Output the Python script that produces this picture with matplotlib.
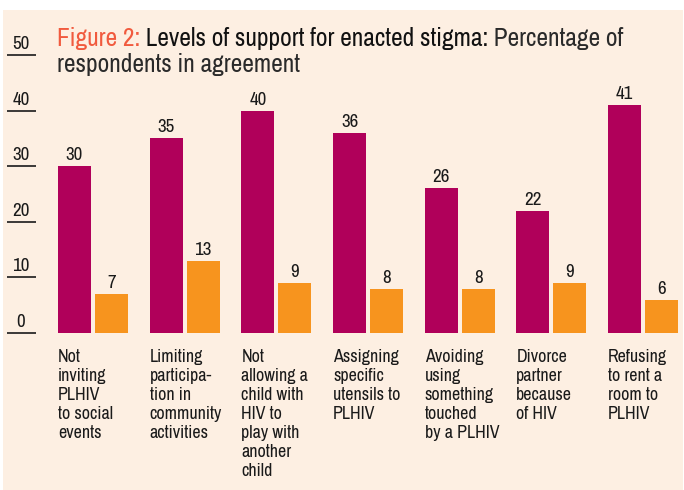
import matplotlib
matplotlib.use("Agg")
import matplotlib.pyplot as plt
from matplotlib import font_manager
from matplotlib.font_manager import FontProperties
from matplotlib.patches import Rectangle
from matplotlib.textpath import TextPath

categories = [
    "Not\ninviting\nPLHIV\nto social\nevents",
    "Limiting\nparticipa-\ntion in\ncommunity\nactivities",
    "Not\nallowing a\nchild with\nHIV to\nplay with\nanother\nchild",
    "Assigning\nspecific\nutensils to\nPLHIV",
    "Avoiding\nusing\nsomething\ntouched\nby a PLHIV",
    "Divorce\npartner\nbecause\nof HIV",
    "Refusing\nto rent a\nroom to\nPLHIV",
]
series_a = [30, 35, 40, 36, 26, 22, 41]
series_b = [7, 13, 9, 8, 8, 9, 6]
y_ticks = [0, 10, 20, 30, 40, 50]

MAGENTA = '#B0005A'
ORANGE = '#F7941E'
BG = '#FDEFE2'
TITLE_RED = '#F15A3E'
INK = '#1a1a1a'


def pick_font():
    # look for a narrow / condensed face, the original uses a condensed grotesque
    best = None
    for f in font_manager.fontManager.ttflist:
        name = f.name.lower()
        path = f.fname.lower()
        narrow = ('narrow' in name or 'condensed' in name or 'condensed' in path
                  or 'narrow' in path or str(f.stretch) in ('condensed', 'semi-condensed'))
        if not narrow or f.style != 'normal' or f.weight not in (400, 'normal', 'regular'):
            continue
        if 'mono' in name or 'serif' in name and 'sans' not in name:
            continue
        rank = 0 if 'narrow' in name else 1
        if best is None or rank < best[0]:
            best = (rank, f.fname)
    if best:
        return FontProperties(fname=best[1])
    return FontProperties(family='DejaVu Sans')


FP = pick_font()


def ext(s, size):
    # glyph extents in pixels at 100 dpi
    e = TextPath((0, 0), s, size=size, prop=FP).get_extents()
    return e.width * 100 / 72, e.height * 100 / 72, e.y1 * 100 / 72


def fit_w(s, target_px):
    return 10 * target_px / ext(s, 10)[0]


def fit_h(s, target_px):
    return 10 * target_px / ext(s, 10)[1]


title_size = fit_w("Figure 2: Levels of support for enacted stigma: Percentage of", 565)
cat_size = 0.89 * fit_w("community", 80)
num_size = fit_h("30", 13.5)

W, H = 684, 490
fig = plt.figure(figsize=(W / 100, H / 100), dpi=100)
fig.patch.set_facecolor('white')
fig.patches.append(Rectangle((3 / W, 0), 680 / W, 480 / H, transform=fig.transFigure,
                             facecolor=BG, edgecolor='none', zorder=-10))

# axes: y=0 at pixel 333 from top, y=50 at pixel 55
y0 = (H - 333) / H
y50 = (H - 55) / H
ax = fig.add_axes([0, y0, 1, y50 - y0])
ax.set_facecolor('none')
ax.set_ylim(0, 50)
spacing = 91.67
ax.set_xlim(-93 / spacing, (W - 93) / spacing)
for s in ax.spines.values():
    s.set_visible(False)
ax.set_xticks([])
ax.set_yticks([])

bw = 33 / spacing
off = 18.5 / spacing
xs = list(range(len(categories)))
ax.bar([x - off for x in xs], series_a, width=bw, color=MAGENTA, clip_on=False)
ax.bar([x + off for x in xs], series_b, width=bw, color=ORANGE, clip_on=False)

for x, a, b in zip(xs, series_a, series_b):
    ax.annotate(str(a), (x - off, a), xytext=(0, 6), textcoords='offset pixels',
                ha='center', va='baseline', fontproperties=FP, fontsize=num_size, color=INK)
    ax.annotate(str(b), (x + off, b), xytext=(0, 6), textcoords='offset pixels',
                ha='center', va='baseline', fontproperties=FP, fontsize=num_size, color=INK)

# reference line pitch is ~19 px (0.84 corrects for the renderer's line box)
lp_ascent = ext("lp", cat_size)[2]
for x, lab in zip(xs, categories):
    ax.annotate(lab, (x - off - bw / 2, 0), xytext=(0, -16), textcoords='offset pixels',
                ha='left', va='top', fontproperties=FP, fontsize=cat_size, color=INK,
                linespacing=0.84 * 19 / lp_ascent)

# y axis: short rules with labels above
btr = ax.get_yaxis_transform()
ax.hlines(y_ticks, 7 / W, 36 / W, transform=btr, color=INK, lw=1.2, clip_on=False)
for t in y_ticks:
    ax.annotate(str(t), (21 / W, t), xycoords=btr, xytext=(0, 6),
                textcoords='offset pixels', ha='center', va='baseline',
                fontproperties=FP, fontsize=num_size, color=INK, annotation_clip=False)

# title in pieces
t1 = fig.text(57 / W, (H - 46) / H, "Figure 2:", fontproperties=FP, fontsize=title_size,
              color=TITLE_RED, va='baseline', ha='left')
t2 = ax.annotate(" Levels of support for enacted stigma:", xy=(1, 0), xycoords=t1,
                 va='bottom', ha='left', fontproperties=FP, fontsize=title_size, color='#111111')
t3 = ax.annotate(" Percentage of", xy=(1, 0), xycoords=t2,
                 va='bottom', ha='left', fontproperties=FP, fontsize=title_size, color='#2a2a2a')
fig.text(57 / W, (H - 72) / H, "respondents in agreement", fontproperties=FP,
         fontsize=title_size, color='#2a2a2a', va='baseline', ha='left')

fig.savefig('out.png', dpi=100, facecolor=fig.get_facecolor())
